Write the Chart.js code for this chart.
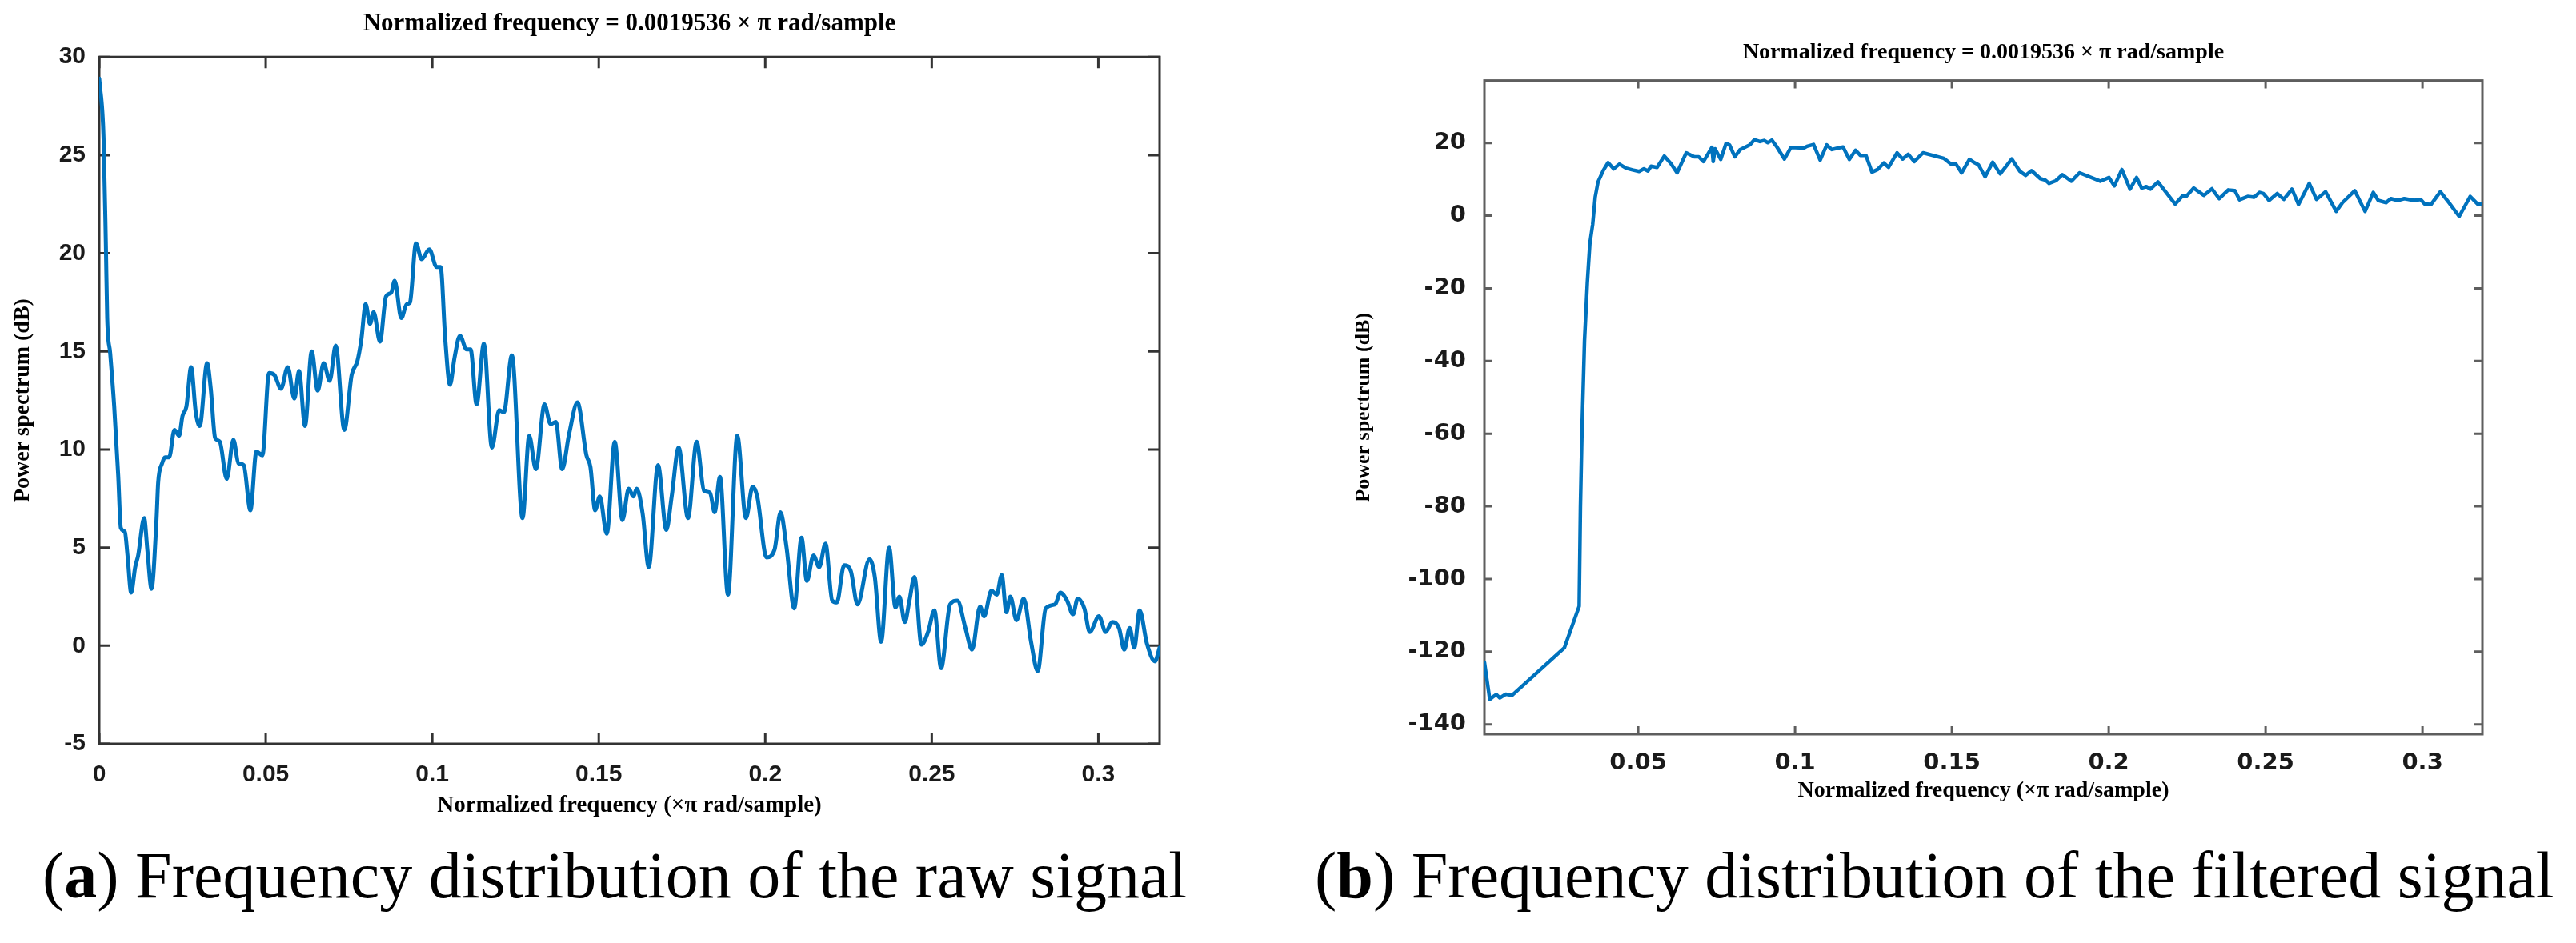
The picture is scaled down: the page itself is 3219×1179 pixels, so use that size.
<!DOCTYPE html>
<html>
<head>
<meta charset="utf-8">
<title>Frequency distribution of the raw and filtered signal</title>
<script src="https://cdn.jsdelivr.net/npm/chart.js@4.4.1/dist/chart.umd.min.js"></script>
<style>
  html, body { margin: 0; padding: 0; background: #fff; }
  body { width: 3219px; height: 1179px; position: relative; overflow: hidden; }
  .panel { position: absolute; }
  #panelA { left: 0; top: 0; width: 1500px; height: 1045px; }
  #panelB { left: 1600px; top: 0; width: 1619px; height: 1040px; }
  .caption {
    position: absolute; top: 1054px; white-space: nowrap; color: #000;
    font: 82px/82px 'Liberation Serif', 'Times New Roman', serif;
  }
  #capA { left: 53px; }
  #capB { left: 1643px; }
</style>
</head>
<body>
<div class="panel" id="panelA"><canvas id="chartA"></canvas></div>
<div class="panel" id="panelB"><canvas id="chartB"></canvas></div>
<div class="caption" id="capA">(<b>a</b>) Frequency distribution of the raw signal</div>
<div class="caption" id="capB">(<b>b</b>) Frequency distribution of the filtered signal</div>

<script>
// (a) raw signal: normalized frequency (x pi rad/sample) and power (dB)
const freqA = [
  0, 0.0013, 0.002, 0.0024, 0.0033, 0.0045, 0.0057, 0.0065, 0.0077, 0.0085,
  0.0096, 0.0108, 0.0117, 0.0135, 0.0145, 0.0157, 0.0172, 0.0177, 0.0189, 0.0198,
  0.021, 0.0226, 0.024, 0.025, 0.0262, 0.0276, 0.029, 0.0302, 0.0324, 0.0335,
  0.0348, 0.0362, 0.0383, 0.0403, 0.0418, 0.0434, 0.0454, 0.0472, 0.049, 0.051,
  0.0526, 0.0546, 0.0566, 0.0586, 0.06, 0.0618, 0.0638, 0.0656, 0.0674, 0.0692,
  0.071, 0.0736, 0.0758, 0.0775, 0.0787, 0.08, 0.0813, 0.0824, 0.0843, 0.0861,
  0.0877, 0.0887, 0.0907, 0.0923, 0.0933, 0.0951, 0.0968, 0.0991, 0.1013, 0.1025,
  0.1039, 0.1053, 0.1067, 0.1083, 0.1103, 0.1115, 0.1133, 0.1155, 0.1179, 0.1201,
  0.1215, 0.1239, 0.1271, 0.1291, 0.1311, 0.1337, 0.1355, 0.1371, 0.139, 0.1411,
  0.1436, 0.1463, 0.1475, 0.1489, 0.1503, 0.1524, 0.1548, 0.1571, 0.159, 0.1604,
  0.1614, 0.1632, 0.165, 0.1678, 0.1703, 0.1719, 0.174, 0.1768, 0.1794, 0.1816,
  0.1834, 0.1848, 0.1864, 0.1888, 0.1916, 0.1942, 0.1962, 0.1976, 0.2004, 0.2028,
  0.2046, 0.2064, 0.2087, 0.2109, 0.2125, 0.2145, 0.2162, 0.2181, 0.2201, 0.2215,
  0.2237, 0.2257, 0.2277, 0.2313, 0.2329, 0.2348, 0.2372, 0.2391, 0.2403, 0.2419,
  0.2433, 0.2448, 0.2469, 0.2489, 0.2508, 0.2528, 0.2555, 0.2577, 0.2601, 0.2621,
  0.2645, 0.2657, 0.2679, 0.2695, 0.271, 0.2724, 0.2736, 0.2754, 0.2776, 0.2798,
  0.2818, 0.2842, 0.287, 0.2886, 0.2906, 0.2924, 0.2938, 0.2958, 0.2974, 0.3002,
  0.3022, 0.3042, 0.3062, 0.3078, 0.3094, 0.3108, 0.3124, 0.3146, 0.317, 0.3184
];
const powerA = [
  28.9, 25.9, 20.4, 16.7, 14.9, 12.2, 8.7, 6.0, 5.8, 4.6,
  2.7, 4.0, 4.6, 6.5, 4.8, 2.9, 6.4, 8.3, 9.3, 9.6,
  9.6, 11.0, 10.7, 11.7, 12.2, 14.2, 11.9, 11.2, 14.4, 13.1,
  10.6, 10.4, 8.5, 10.5, 9.3, 9.2, 6.9, 9.9, 9.7, 13.9,
  13.8, 13.1, 14.2, 12.6, 14.0, 11.2, 15.0, 13.0, 14.4, 13.5,
  15.3, 11.0, 13.8, 14.5, 15.6, 17.4, 16.4, 17.0, 15.5, 17.8,
  18.0, 18.6, 16.7, 17.4, 17.5, 20.5, 19.7, 20.2, 19.3, 19.3,
  15.6, 13.3, 14.7, 15.8, 15.1, 15.1, 12.3, 15.4, 10.1, 12.0,
  11.9, 14.8, 6.5, 10.7, 9.0, 12.3, 11.3, 11.4, 9.0, 10.8,
  12.4, 9.7, 9.1, 6.9, 7.6, 5.7, 10.4, 6.4, 8.0, 7.6,
  8.0, 6.7, 4.0, 9.2, 5.9, 7.6, 10.1, 6.5, 10.4, 7.9,
  7.8, 6.8, 8.6, 2.6, 10.7, 6.5, 8.1, 7.6, 4.5, 4.9,
  6.8, 5.0, 1.9, 5.5, 3.3, 4.6, 4.0, 5.2, 2.3, 2.2,
  4.1, 3.8, 2.1, 4.4, 3.5, 0.2, 5.0, 1.95, 2.5, 1.2,
  2.3, 3.5, 0.05, 0.7, 1.8, -1.15, 2.1, 2.3, 0.9, -0.2,
  2.0, 1.5, 2.8, 2.6, 3.6, 1.7, 2.5, 1.3, 2.4, 0.2,
  -1.3, 1.9, 2.1, 2.7, 2.3, 1.6, 2.4, 1.9, 0.7, 1.5,
  0.7, 1.2, 0.9, -0.2, 0.9, -0.1, 1.8, 0.1, -0.8, -0.1
];

// (b) filtered signal
const freqB = [
  0.001, 0.0027, 0.0036, 0.0048, 0.0059, 0.0078, 0.0098, 0.0265, 0.0312, 0.0316,
  0.0321, 0.0329, 0.0338, 0.0346, 0.0355, 0.0363, 0.0372, 0.0389, 0.0404, 0.0422,
  0.044, 0.0461, 0.0482, 0.0503, 0.0518, 0.0531, 0.0541, 0.056, 0.0583, 0.0604,
  0.0624, 0.0653, 0.0679, 0.0693, 0.0708, 0.0735, 0.0739, 0.0745, 0.0763, 0.078,
  0.0791, 0.0808, 0.0825, 0.0856, 0.087, 0.0888, 0.0901, 0.0913, 0.0926, 0.0943,
  0.0966, 0.0987, 0.1028, 0.1038, 0.1059, 0.108, 0.1101, 0.1117, 0.1132, 0.1153,
  0.1173, 0.1193, 0.1208, 0.1226, 0.1245, 0.1263, 0.1283, 0.1298, 0.1325, 0.1343,
  0.1361, 0.138, 0.1408, 0.1474, 0.1497, 0.1513, 0.1531, 0.1556, 0.1572, 0.1585,
  0.1606, 0.163, 0.1654, 0.1691, 0.1717, 0.1735, 0.1754, 0.1782, 0.1798, 0.181,
  0.1831, 0.1852, 0.1881, 0.1907, 0.1973, 0.2001, 0.2018, 0.2042, 0.2068, 0.2089,
  0.2105, 0.212, 0.2133, 0.2157, 0.2212, 0.2235, 0.2247, 0.2271, 0.2303, 0.2329,
  0.2352, 0.2381, 0.2402, 0.2417, 0.2443, 0.2464, 0.248, 0.2493, 0.2511, 0.2537,
  0.2558, 0.2584, 0.2605, 0.2639, 0.2662, 0.2691, 0.2725, 0.2745, 0.2784, 0.2817,
  0.2843, 0.2859, 0.2884, 0.2899, 0.2921, 0.2942, 0.2973, 0.2994, 0.3007, 0.3027,
  0.3057, 0.3086, 0.3117, 0.3152, 0.3176, 0.3191
];
const powerB = [
  -122.9, -133.1, -132.5, -131.8, -132.7, -131.7, -132.0, -118.9, -107.5, -80.3,
  -58.9, -34.4, -18.4, -7.7, -2.4, 5.1, 9.3, 12.5, 14.6, 12.9,
  14.2, 13.1, 12.6, 12.2, 12.9, 12.3, 13.6, 13.3, 16.4, 14.4,
  11.8, 17.3, 16.2, 16.2, 14.9, 18.8, 14.9, 18.4, 15.5, 19.9,
  19.5, 16.2, 18.2, 19.5, 20.9, 20.4, 20.7, 20.1, 20.8, 18.8,
  15.6, 18.8, 18.6, 19.1, 19.6, 15.3, 19.5, 18.2, 18.5, 18.9,
  15.5, 18.0, 16.6, 16.6, 12.0, 12.7, 14.5, 13.3, 17.3, 15.6,
  16.9, 14.9, 17.3, 15.8, 14.2, 14.2, 11.8, 15.5, 14.6, 14.0,
  10.7, 14.7, 11.5, 15.6, 12.2, 11.1, 12.4, 10.2, 9.8, 8.9,
  9.6, 11.3, 9.5, 11.8, 9.5, 10.5, 8.2, 12.7, 7.3, 10.5,
  7.6, 8.0, 7.3, 9.3, 3.2, 5.4, 5.3, 7.6, 5.6, 7.4,
  4.7, 7.1, 6.9, 4.4, 5.3, 5.1, 6.4, 6.1, 4.2, 6.1,
  4.5, 7.3, 3.1, 8.9, 4.5, 6.6, 1.2, 3.6, 6.9, 1.2,
  6.4, 4.2, 3.6, 4.7, 4.2, 4.7, 4.2, 4.5, 3.2, 3.1,
  6.6, 3.4, -0.2, 5.3, 3.2, 3.2
];

// tick labels
const xTicksA = [0, 0.05, 0.1, 0.15, 0.2, 0.25, 0.3];
const yTicksA = [-5, 0, 5, 10, 15, 20, 25, 30];
const xTicksB = [0.05, 0.1, 0.15, 0.2, 0.25, 0.3];
const yTicksB = [-140, -120, -100, -80, -60, -40, -20, 0, 20];

const LINE_COLOR = '#0072BD';
const SERIF = "'Liberation Serif', 'Times New Roman', serif";
const TITLE = 'Normalized frequency = 0.0019536 \u00d7 \u03c0 rad/sample';
const X_TITLE = 'Normalized frequency (\u00d7\u03c0 rad/sample)';
const Y_TITLE = 'Power spectrum (dB)';

// MATLAB style box: frame plus inward ticks on all four sides
const boxTicks = {
  id: 'boxTicks',
  beforeDatasetsDraw(chart, args, opts) {
    const { ctx, chartArea: a, scales: { x, y } } = chart;
    ctx.save();
    ctx.strokeStyle = opts.color;
    ctx.lineWidth = opts.width;
    ctx.beginPath();
    x.ticks.forEach(t => {
      const px = x.getPixelForValue(t.value);
      ctx.moveTo(px, a.bottom); ctx.lineTo(px, a.bottom - opts.len);
      ctx.moveTo(px, a.top); ctx.lineTo(px, a.top + opts.len);
    });
    y.ticks.forEach(t => {
      const py = y.getPixelForValue(t.value);
      ctx.moveTo(a.left, py); ctx.lineTo(a.left + opts.len, py);
      ctx.moveTo(a.right, py); ctx.lineTo(a.right - opts.len, py);
    });
    ctx.stroke();
    ctx.strokeRect(a.left, a.top, a.right - a.left, a.bottom - a.top);
    ctx.restore();
  }
};

const fmt = v => String(Math.round(v * 1000) / 1000);

function makeChart(canvasId, c) {
  const ctx = document.getElementById(canvasId).getContext('2d');
  return new Chart(ctx, {
    type: 'line',
    data: {
      datasets: [{
        data: c.freq.map((f, i) => ({ x: f, y: c.power[i] })),
        borderColor: LINE_COLOR,
        borderWidth: c.lineWidth,
        borderJoinStyle: 'round',
        borderCapStyle: 'round',
        pointRadius: 0,
        fill: false,
        tension: 0,
        cubicInterpolationMode: c.smooth ? 'monotone' : 'default'
      }]
    },
    options: {
      responsive: true,
      maintainAspectRatio: false,
      animation: false,
      layout: { padding: c.padding },
      plugins: {
        legend: { display: false },
        tooltip: { enabled: false },
        title: {
          display: true, text: TITLE, fullSize: false, color: '#000',
          font: { family: SERIF, size: c.titleSize, weight: 'bold' },
          padding: c.titlePad
        },
        boxTicks: { len: c.tickLen, color: c.axisColor, width: c.axisWidth }
      },
      scales: {
        x: {
          type: 'linear', min: c.xMin, max: c.xMax,
          grid: { display: false }, border: { display: false },
          afterBuildTicks: s => { s.ticks = c.xTicks.map(v => ({ value: v })); },
          afterFit: s => { s.height = c.xAxisHeight; },
          ticks: {
            autoSkip: false, maxRotation: 0, padding: c.xTickPad, color: '#1a1a1a',
            font: { family: c.tickFamily, size: c.tickSize, weight: 'bold' },
            callback: fmt
          },
          title: {
            display: true, text: X_TITLE, color: '#000',
            font: { family: SERIF, size: c.xTitleSize, weight: 'bold' },
            padding: { top: 0, bottom: c.xTitlePad }
          }
        },
        y: {
          type: 'linear', min: c.yMin, max: c.yMax,
          grid: { display: false }, border: { display: false },
          afterBuildTicks: s => { s.ticks = c.yTicks.map(v => ({ value: v })); },
          afterFit: s => { s.width = c.yAxisWidth; },
          ticks: {
            autoSkip: false, padding: c.yTickPad, color: '#1a1a1a',
            font: { family: c.tickFamily, size: c.tickSize, weight: 'bold' },
            callback: fmt
          },
          title: {
            display: true, text: Y_TITLE, color: '#000',
            font: { family: SERIF, size: c.yTitleSize, weight: 'bold' },
            padding: { top: c.yTitlePad, bottom: 0 }
          }
        }
      }
    },
    plugins: [boxTicks]
  });
}

makeChart('chartA', {
  freq: freqA, power: powerA, smooth: true, lineWidth: 5,
  xMin: 0, xMax: 0.3184, yMin: -5, yMax: 30,
  xTicks: xTicksA, yTicks: yTicksA,
  padding: { left: 0, top: 0, right: 51, bottom: 0 },
  titleSize: 31, titlePad: { top: 11, bottom: 23 },
  yAxisWidth: 124, xAxisHeight: 115,
  tickFamily: "'Liberation Sans', Arial, sans-serif", tickSize: 30,
  xTickPad: 13, yTickPad: 9,
  xTitleSize: 29, xTitlePad: 20, yTitleSize: 28, yTitlePad: 12,
  tickLen: 14, axisColor: '#333333', axisWidth: 3
});

makeChart('chartB', {
  freq: freqB, power: powerB, smooth: false, lineWidth: 4.5,
  xMin: 0.001, xMax: 0.3191, yMin: -142.7, yMax: 37.2,
  xTicks: xTicksB, yTicks: yTicksB,
  padding: { left: 0, top: 0, right: 117, bottom: 0 },
  titleSize: 28, titlePad: { top: 49, bottom: 18 },
  yAxisWidth: 255, xAxisHeight: 122,
  tickFamily: "'DejaVu Sans', sans-serif", tickSize: 29,
  xTickPad: 11, yTickPad: 15,
  xTitleSize: 28, xTitlePad: 34, yTitleSize: 26, yTitlePad: 89,
  tickLen: 10, axisColor: '#5e5e5e', axisWidth: 3
});
</script>
</body>
</html>
